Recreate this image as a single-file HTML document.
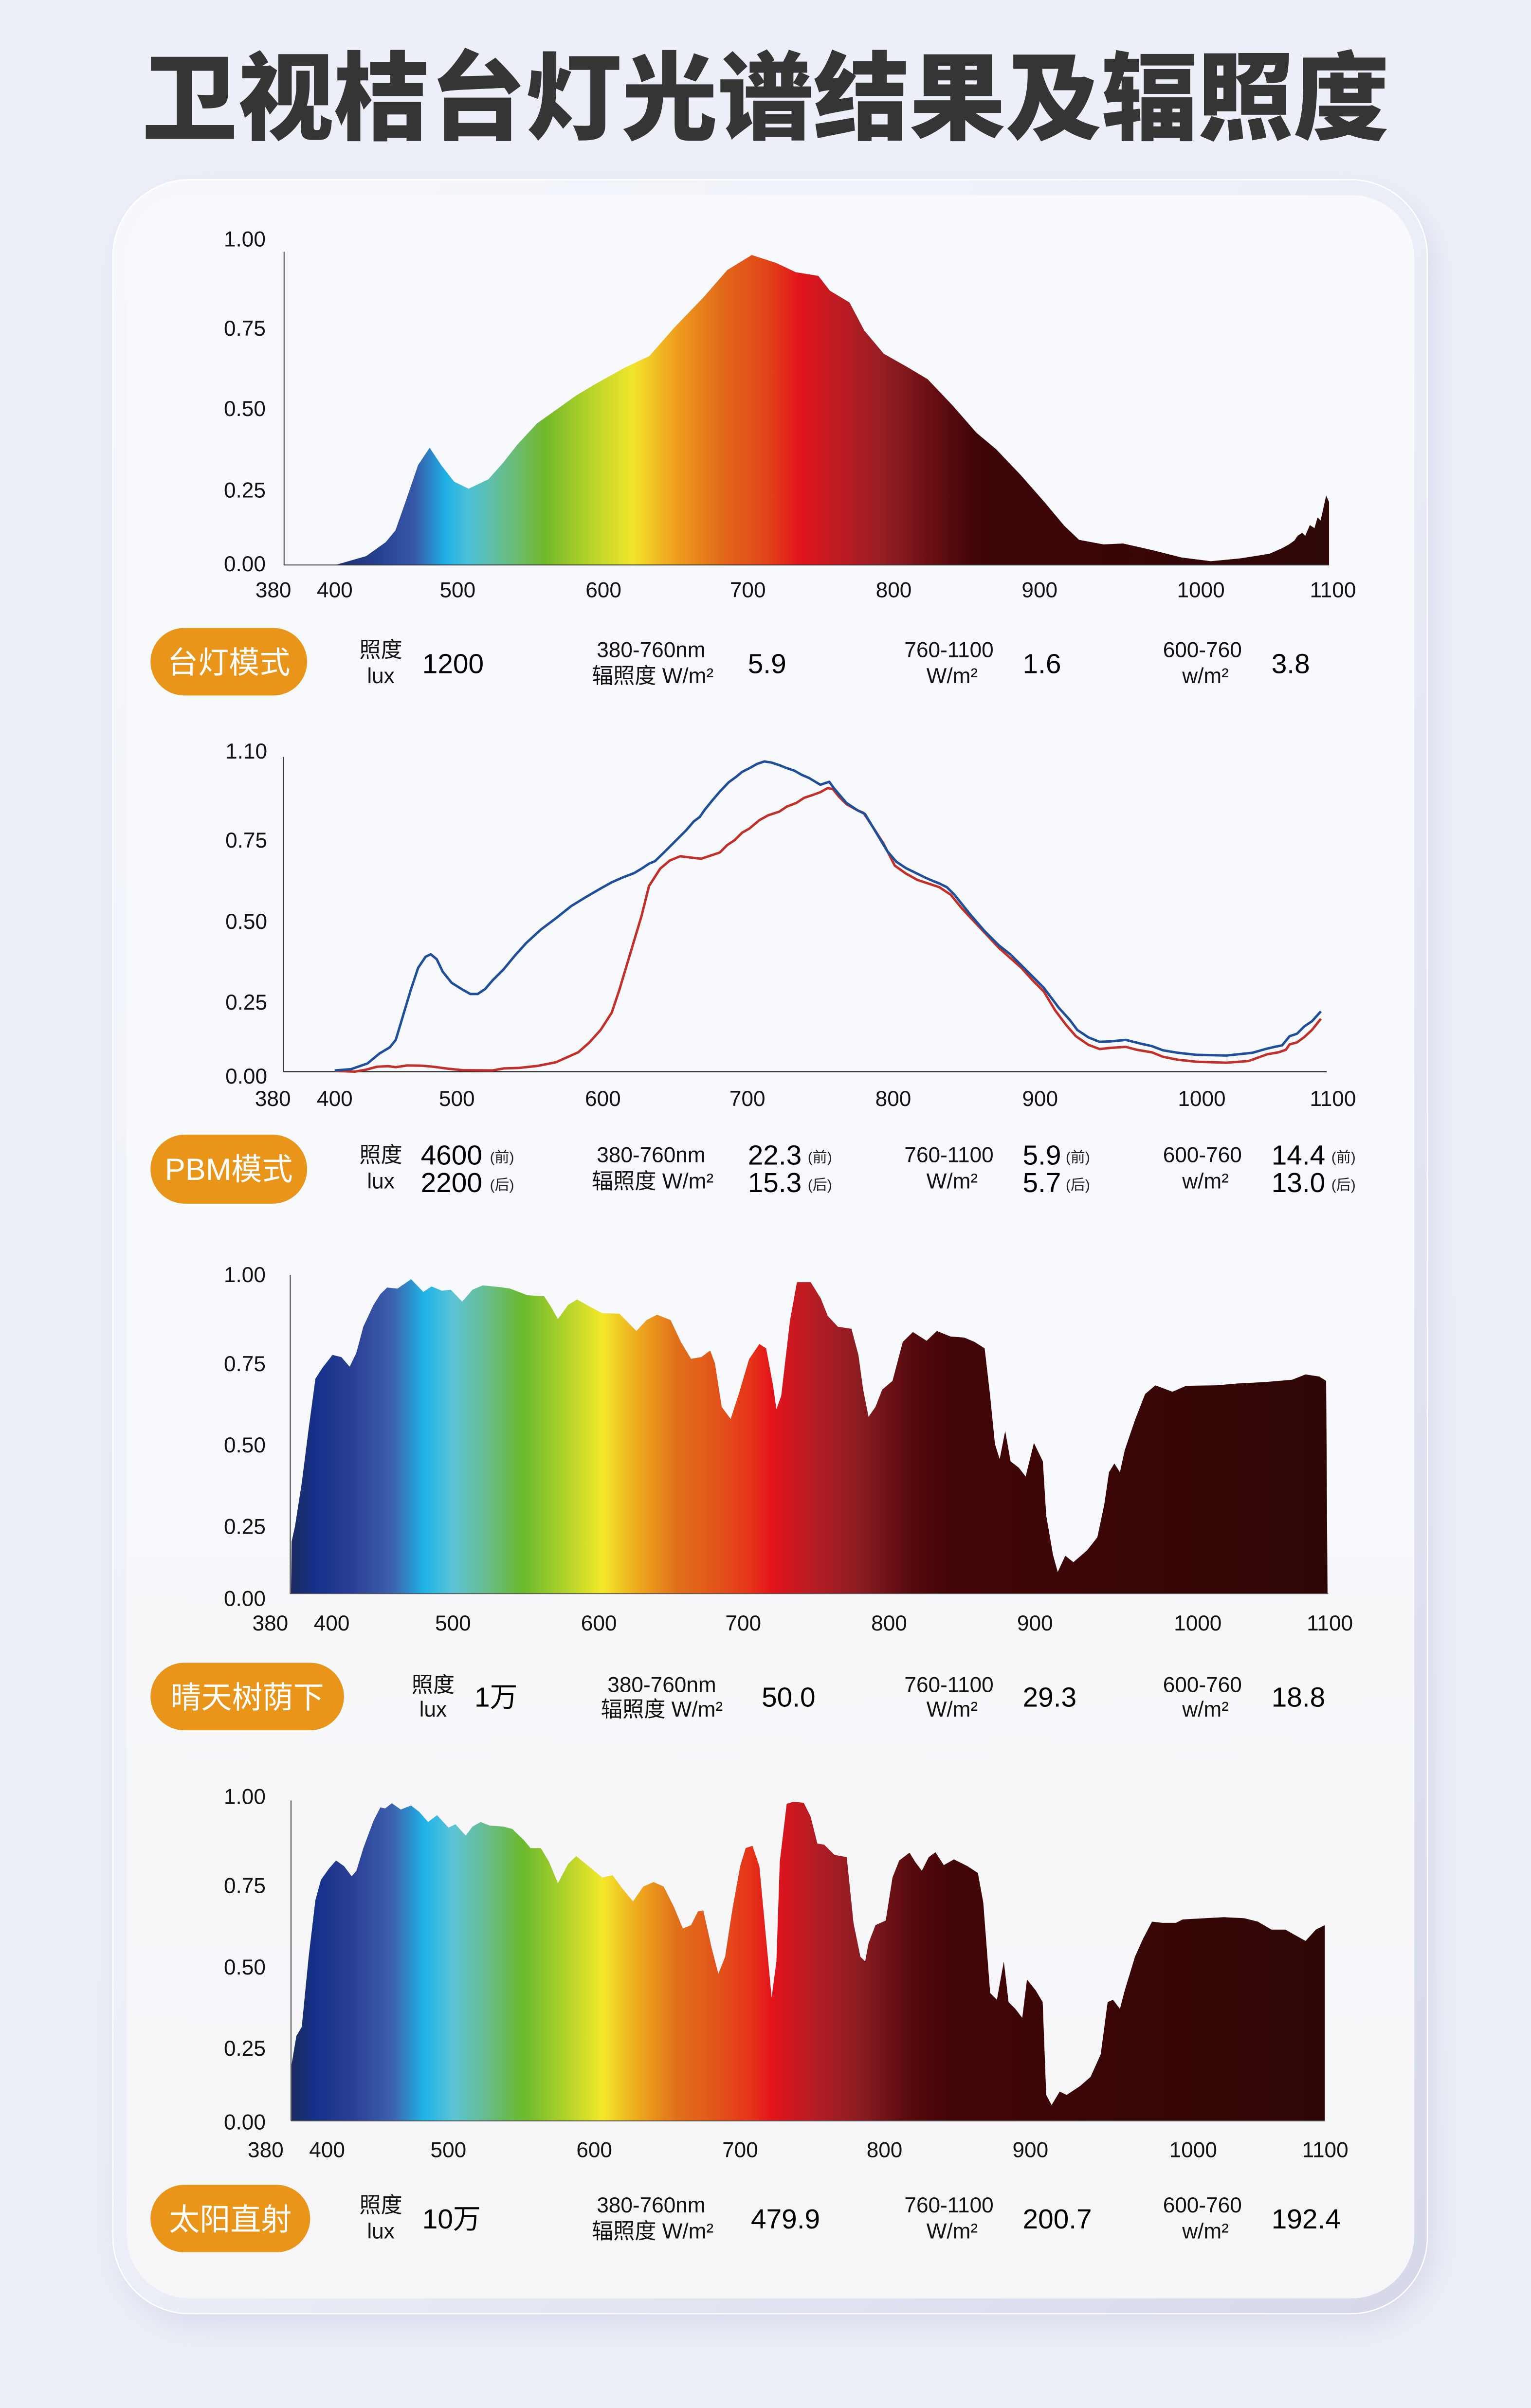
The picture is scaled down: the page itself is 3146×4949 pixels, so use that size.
<!DOCTYPE html>
<html>
<head>
<meta charset="utf-8">
<style>
html,body{margin:0;padding:0;background:#edeff7;}
svg{display:block;}
text{font-family:"Liberation Sans","Noto Sans CJK SC",sans-serif;fill:#111;}
.ax{font-size:14px;}
.lb{font-size:14px;text-anchor:middle;}
.v{font-size:18px;fill:#000;}
.sm{font-size:9.5px;fill:#222;}
.pill{font-size:20px;fill:#fff;text-anchor:middle;}
</style>
</head>
<body>
<svg width="3146" height="4949" viewBox="0 0 997 1568.4" preserveAspectRatio="none" xmlns="http://www.w3.org/2000/svg">
<defs>
  <linearGradient id="bg" x1="0" y1="0" x2="0" y2="1">
    <stop offset="0" stop-color="#edeff8"/>
    <stop offset="1" stop-color="#eceef7"/>
  </linearGradient>
  <linearGradient id="band" x1="0" y1="0" x2="1" y2="1">
    <stop offset="0" stop-color="#f6f8fd"/>
    <stop offset="0.5" stop-color="#eceef7"/>
    <stop offset="1" stop-color="#d5d8e9"/>
  </linearGradient>
  <linearGradient id="inner" x1="0" y1="0" x2="0" y2="1">
    <stop offset="0" stop-color="#f7f9fd"/>
    <stop offset="0.6" stop-color="#f8f9fc"/>
    <stop offset="1" stop-color="#f6f5f8"/>
  </linearGradient>
  <filter id="sh" x="-10%" y="-10%" width="120%" height="120%">
    <feGaussianBlur stdDeviation="9"/>
  </filter>
  <linearGradient id="sp1" gradientUnits="userSpaceOnUse" x1="219" y1="0" x2="866" y2="0">
    <stop offset="0" stop-color="#1e2f6e"/>
    <stop offset="0.04" stop-color="#263f8f"/>
    <stop offset="0.079" stop-color="#3659a8"/>
    <stop offset="0.11" stop-color="#1fb0e5"/>
    <stop offset="0.133" stop-color="#4cc0d8"/>
    <stop offset="0.156" stop-color="#5fbfa8"/>
    <stop offset="0.184" stop-color="#6cbb6a"/>
    <stop offset="0.21" stop-color="#72b92b"/>
    <stop offset="0.257" stop-color="#b8d42a"/>
    <stop offset="0.298" stop-color="#f2e52a"/>
    <stop offset="0.342" stop-color="#ef9e1e"/>
    <stop offset="0.388" stop-color="#e1691a"/>
    <stop offset="0.434" stop-color="#e14419"/>
    <stop offset="0.467" stop-color="#e3141c"/>
    <stop offset="0.504" stop-color="#bf1b22"/>
    <stop offset="0.55" stop-color="#951e24"/>
    <stop offset="0.597" stop-color="#6a1014"/>
    <stop offset="0.643" stop-color="#3f0508"/>
    <stop offset="0.744" stop-color="#3a0507"/>
    <stop offset="1" stop-color="#2e0707"/>
  </linearGradient>
  <linearGradient id="sp3" gradientUnits="userSpaceOnUse" x1="189" y1="0" x2="866" y2="0">
    <stop offset="0" stop-color="#1c2a5e"/>
    <stop offset="0.024" stop-color="#14318a"/>
    <stop offset="0.061" stop-color="#2c3f96"/>
    <stop offset="0.098" stop-color="#3d61ad"/>
    <stop offset="0.129" stop-color="#1fb3e6"/>
    <stop offset="0.157" stop-color="#5dc4d6"/>
    <stop offset="0.186" stop-color="#67bd94"/>
    <stop offset="0.223" stop-color="#6ab92e"/>
    <stop offset="0.26" stop-color="#a8cf2b"/>
    <stop offset="0.3" stop-color="#f3e82a"/>
    <stop offset="0.334" stop-color="#eeaa1e"/>
    <stop offset="0.372" stop-color="#e1701a"/>
    <stop offset="0.415" stop-color="#e2501a"/>
    <stop offset="0.445" stop-color="#e53018"/>
    <stop offset="0.464" stop-color="#e3131b"/>
    <stop offset="0.504" stop-color="#b51d24"/>
    <stop offset="0.548" stop-color="#8a1d22"/>
    <stop offset="0.593" stop-color="#5a0b0f"/>
    <stop offset="0.635" stop-color="#420507"/>
    <stop offset="1" stop-color="#2e0606"/>
  </linearGradient>
</defs>

<rect x="0" y="0" width="997" height="1568.4" fill="url(#bg)"/>

<!-- Title -->
<text x="498.5" y="86" style="font-family:'Liberation Sans','Noto Sans CJK SC',sans-serif;font-size:62.5px;font-weight:900;fill:#353535;text-anchor:middle;">卫视桔台灯光谱结果及辐照度</text>

<!-- Card -->
<rect x="78" y="124" width="856" height="1390" rx="52" fill="#c6c9e0" opacity="0.55" filter="url(#sh)"/>
<rect x="73.5" y="117" width="856" height="1390" rx="50" fill="url(#band)" stroke="#ffffff" stroke-width="0.8"/>
<rect x="82.5" y="127" width="838.5" height="1370" rx="41" fill="url(#inner)"/>

<!-- ========== Chart 1 ========== -->
<path fill="url(#sp1)" d="M219.4,368 L219.4,367.7 L238.5,362.2 L251.2,353.1 L257.5,345.5 L263.9,327.3 L272.2,303.1 L279.8,291.6 L287.4,303.1 L295.7,313.7 L305.2,318.3 L318,312.2 L327.5,301.6 L337,289.5 L349.7,275.8 L362.5,266.7 L375.2,257.6 L387.9,250 L407,239.4 L422.9,231.9 L438.8,213.7 L457.8,194 L473.7,175.8 L489.6,166.1 L505.5,171.3 L518.3,177.3 L532.9,179.7 L540.5,189.4 L553.2,197 L562.8,215.2 L575.5,230.4 L591.4,239.4 L604.1,247 L620,263.7 L635.9,281.9 L648.6,292.5 L664.5,309.2 L680.4,327.3 L693.1,342.5 L702.7,351.6 L718.6,354.6 L731.3,354 L750.4,358.3 L769.4,363.1 L788.5,365.5 L807.6,363.7 L826.7,360.7 L835,357 L839.4,354.6 L843,352 L845,349 L848,347 L850,349 L853,342 L856,344 L858,337 L860,339 L862,330 L863.6,322.8 L865.5,327 L865.5,368 Z"/>
<line x1="185" y1="164" x2="185" y2="368" stroke="#333" stroke-width="0.6"/>
<line x1="185" y1="368" x2="865.5" y2="368" stroke="#333" stroke-width="0.6"/>
<g class="ax" text-anchor="end">
<text x="173" y="160.5">1.00</text>
<text x="173" y="218.7">0.75</text>
<text x="173" y="271">0.50</text>
<text x="173" y="324">0.25</text>
<text x="173" y="372">0.00</text>
</g>
<g class="ax" text-anchor="middle">
<text x="178" y="389">380</text><text x="218" y="389">400</text><text x="298" y="389">500</text><text x="393" y="389">600</text><text x="487" y="389">700</text><text x="582" y="389">800</text><text x="677" y="389">900</text><text x="782" y="389">1000</text><text x="868" y="389">1100</text>
</g>

<!-- Row 1 -->
<rect x="98" y="409" width="102" height="44" rx="22" fill="#e8951a"/>
<text class="pill" x="149" y="438.5">台灯模式</text>
<text class="lb" x="248" y="428">照度</text>
<text class="lb" x="248" y="445">lux</text>
<text class="v" x="275" y="438.5">1200</text>
<text class="lb" x="424" y="428">380-760nm</text>
<text class="lb" x="425" y="445">辐照度 W/m²</text>
<text class="v" x="487" y="438.5">5.9</text>
<text class="lb" x="618" y="428">760-1100</text>
<text class="lb" x="620" y="445">W/m²</text>
<text class="v" x="666" y="438.5">1.6</text>
<text class="lb" x="783" y="428">600-760</text>
<text class="lb" x="785" y="445">w/m²</text>
<text class="v" x="828" y="438.5">3.8</text>

<!-- ========== Chart 2 ========== -->
<line x1="184.5" y1="493" x2="184.5" y2="698" stroke="#333" stroke-width="0.6"/>
<line x1="184.5" y1="698" x2="864" y2="698" stroke="#222" stroke-width="0.7"/>
<g transform="translate(126.76,475.25) scale(0.48506,0.16165)">
<polyline fill="none" stroke="#c2302a" stroke-width="5" vector-effect="non-scaling-stroke" stroke-linejoin="round" points="188,1375 215,1378 230,1370 245,1358 260,1356 270,1360 285,1353 305,1354 320,1358 340,1366 360,1372 400,1373 415,1365 435,1363 460,1355 485,1340 500,1320 515,1300 530,1260 545,1210 560,1140 570,1050 580,950 590,850 600,750 610,630 625,560 638,527 652,510 665,515 680,520 695,505 705,495 715,465 725,445 735,415 745,398 758,365 770,345 785,330 795,310 808,295 818,275 828,265 840,252 850,235 857,240 865,270 875,300 890,325 898,335 910,390 925,460 940,548 955,580 970,605 985,620 1000,635 1015,665 1030,720 1055,800 1080,880 1095,920 1110,960 1125,1010 1140,1055 1155,1130 1170,1190 1183,1235 1200,1270 1215,1287 1230,1282 1250,1278 1265,1290 1285,1300 1300,1318 1320,1330 1345,1338 1385,1342 1415,1335 1440,1308 1455,1300 1465,1290 1470,1268 1480,1260 1490,1238 1500,1210 1512,1165"/>
<polyline fill="none" stroke="#1f4f98" stroke-width="5" vector-effect="non-scaling-stroke" stroke-linejoin="round" points="188,1373 210,1368 232,1345 248,1305 262,1280 270,1250 280,1150 290,1050 300,960 310,915 317,905 325,925 333,975 345,1020 360,1048 370,1065 380,1065 390,1045 400,1010 415,965 430,910 445,860 465,805 485,760 505,712 525,675 545,640 560,615 575,595 590,578 600,560 610,540 618,530 630,495 645,450 660,405 670,370 678,352 685,322 695,285 705,250 717,212 727,190 735,170 745,155 755,138 765,128 775,133 785,143 795,155 805,165 815,182 825,195 840,222 852,210 858,235 865,260 875,295 890,325 900,340 910,390 920,440 930,490 942,532 955,558 970,580 980,595 990,608 1000,620 1010,635 1020,665 1040,740 1060,810 1080,870 1095,905 1110,950 1125,995 1140,1040 1160,1120 1175,1170 1185,1210 1200,1240 1215,1258 1230,1256 1250,1250 1270,1265 1285,1275 1300,1292 1320,1302 1345,1310 1385,1313 1420,1302 1440,1285 1450,1278 1460,1272 1470,1235 1480,1225 1490,1195 1500,1175 1512,1135"/>
</g>
<g class="ax" text-anchor="end">
<text x="174" y="494">1.10</text>
<text x="174" y="552">0.75</text>
<text x="174" y="605">0.50</text>
<text x="174" y="657.6">0.25</text>
<text x="174" y="705.8">0.00</text>
</g>
<g class="ax" text-anchor="middle">
<text x="177.7" y="720.3">380</text><text x="218" y="720.3">400</text><text x="297.5" y="720.3">500</text><text x="392.6" y="720.3">600</text><text x="486.7" y="720.3">700</text><text x="581.7" y="720.3">800</text><text x="677.3" y="720.3">900</text><text x="782.6" y="720.3">1000</text><text x="868" y="720.3">1100</text>
</g>

<!-- Row 2 -->
<rect x="98" y="739" width="102" height="45" rx="22.5" fill="#e8951a"/>
<text class="pill" x="149" y="768.5">PBM模式</text>
<text class="lb" x="248" y="757">照度</text>
<text class="lb" x="248" y="774">lux</text>
<text class="v" x="274" y="758.5">4600</text><text class="sm" x="319" y="757">(前)</text>
<text class="v" x="274" y="776.5">2200</text><text class="sm" x="319" y="775">(后)</text>
<text class="lb" x="424" y="757">380-760nm</text>
<text class="lb" x="425" y="774">辐照度 W/m²</text>
<text class="v" x="487" y="758.5">22.3</text><text class="sm" x="526" y="757">(前)</text>
<text class="v" x="487" y="776.5">15.3</text><text class="sm" x="526" y="775">(后)</text>
<text class="lb" x="618" y="757">760-1100</text>
<text class="lb" x="620" y="774">W/m²</text>
<text class="v" x="666" y="758.5">5.9</text><text class="sm" x="694" y="757">(前)</text>
<text class="v" x="666" y="776.5">5.7</text><text class="sm" x="694" y="775">(后)</text>
<text class="lb" x="783" y="757">600-760</text>
<text class="lb" x="785" y="774">w/m²</text>
<text class="v" x="828" y="758.5">14.4</text><text class="sm" x="867" y="757">(前)</text>
<text class="v" x="828" y="776.5">13.0</text><text class="sm" x="867" y="775">(后)</text>

<!-- ========== Chart 3 ========== -->
<path fill="url(#sp3)" d="M189.5,1038 L189.9,1004.1 L192.1,994.2 L196.5,965.9 L201,930.6 L205.4,898 L209.9,891 L216.5,882.5 L222.3,883.9 L227.7,890.2 L232.1,881 L236.6,864.1 L243.2,850 L247.7,842.9 L252.1,838.6 L258.8,839.3 L267.7,833.2 L275.7,841.5 L281,837.9 L287.7,840.7 L293.5,840 L301,847.8 L307.7,840 L314.4,837.2 L325.5,838.3 L332.2,839.3 L343.3,843.6 L354.4,844.3 L358.9,851.3 L363.3,859.1 L370,849.9 L375.8,846.4 L383.3,850.6 L392.2,855.3 L403.3,855.6 L414.4,866.9 L421.1,859.8 L427.8,856.3 L436.7,859.8 L443.4,874 L450,885 L456.7,883.9 L462.5,879.6 L465.6,888.1 L470,916.4 L475.8,924.2 L481.1,907.9 L487.8,885.3 L494.5,875.4 L498.9,878.2 L503.4,902.3 L505.6,917.8 L508.7,909.3 L514.5,859.8 L519,835.1 L527.9,835.1 L534.5,845.7 L539,857 L545.6,864.1 L554.5,865.5 L559,882.5 L562.1,905.1 L565.6,922.8 L570.1,916.4 L574.5,905.1 L581.2,899.4 L587.9,874 L594.5,867.6 L603.4,873.3 L610.1,866.9 L619,870.5 L627.9,871.2 L634.6,874 L641.2,878.2 L644.8,909.3 L647.9,940.5 L651,950.4 L654.6,932 L658.1,951.8 L663.5,956 L667.9,961.7 L673.3,939.8 L679.1,951.8 L681.3,987.1 L685.7,1012.6 L688.8,1023.9 L693.7,1013.3 L699,1017.5 L707.9,1009.8 L714.6,1001.3 L719.1,980 L722.2,958.9 L725.7,953.2 L729.3,958.9 L732.4,944.7 L739.1,924.9 L745.7,908 L752.4,902.3 L763.5,906.5 L772.4,902.6 L792.4,902.3 L805.8,901.1 L823.6,900.2 L841.3,898.7 L850.2,895.2 L859.1,896.6 L863.6,899.4 L864.5,1038 Z"/>
<line x1="189" y1="830.4" x2="189" y2="1038" stroke="#333" stroke-width="0.6"/>
<line x1="189" y1="1038" x2="865" y2="1038" stroke="#555" stroke-width="0.6"/>
<g class="ax" text-anchor="end">
<text x="173" y="835">1.00</text>
<text x="173" y="893">0.75</text>
<text x="173" y="946">0.50</text>
<text x="173" y="999">0.25</text>
<text x="173" y="1046">0.00</text>
</g>
<g class="ax" text-anchor="middle">
<text x="176" y="1062">380</text><text x="216" y="1062">400</text><text x="295" y="1062">500</text><text x="390" y="1062">600</text><text x="484" y="1062">700</text><text x="579" y="1062">800</text><text x="674" y="1062">900</text><text x="780" y="1062">1000</text><text x="866" y="1062">1100</text>
</g>

<!-- Row 3 -->
<rect x="98" y="1083" width="126" height="44" rx="22" fill="#e8951a"/>
<text class="pill" x="161" y="1112.5">晴天树荫下</text>
<text class="lb" x="282" y="1102">照度</text>
<text class="lb" x="282" y="1118">lux</text>
<text class="v" x="309" y="1111.5">1万</text>
<text class="lb" x="431" y="1102">380-760nm</text>
<text class="lb" x="431" y="1118">辐照度 W/m²</text>
<text class="v" x="496" y="1111.5">50.0</text>
<text class="lb" x="618" y="1102">760-1100</text>
<text class="lb" x="620" y="1118">W/m²</text>
<text class="v" x="666" y="1111.5">29.3</text>
<text class="lb" x="783" y="1102">600-760</text>
<text class="lb" x="785" y="1118">w/m²</text>
<text class="v" x="828" y="1111.5">18.8</text>

<!-- ========== Chart 4 ========== -->
<path fill="url(#sp3)" d="M189.9,1381.4 L189.9,1344.6 L193,1326.1 L196.5,1320.2 L201,1274.5 L205.4,1237.6 L209,1224.4 L214.3,1217 L218.8,1211.8 L224.1,1215.5 L229,1222.1 L232.1,1218.5 L236.6,1203.7 L243.2,1186 L247.7,1177.2 L250.8,1177.9 L255.2,1174.5 L261,1178.6 L267.7,1176 L273,1180.1 L278.8,1186.7 L284.6,1182.3 L292.1,1190.4 L296.6,1188.2 L303.3,1195.6 L307.7,1189.7 L313,1186.7 L318.8,1189 L327.7,1189.7 L333.5,1191.2 L341.1,1198.5 L345.5,1203.7 L352.2,1203.7 L357.5,1212.6 L363.3,1226.6 L370,1214 L375.3,1208.9 L383.3,1215.5 L392.2,1222.9 L398.9,1221.4 L405.5,1230.3 L412.2,1238.4 L418.9,1228.8 L425.6,1225.8 L432.2,1228.8 L438.9,1242.1 L444.7,1256.1 L450,1253.9 L454.5,1245 L458,1244.3 L463.4,1268.6 L467.8,1285.6 L472.2,1274.5 L476.7,1245 L482,1215.5 L485.6,1203.7 L490,1202.2 L494.5,1215.5 L498.9,1262.7 L502.5,1301.1 L505.6,1277.5 L507.8,1212.6 L512.3,1174.9 L516.7,1173.5 L523.4,1174.2 L527.8,1183 L532.3,1200.8 L536.7,1201.5 L543.4,1208.1 L551.4,1209.6 L555.8,1252.4 L560.3,1274.5 L563.4,1277.5 L565.6,1265.7 L570.1,1253.9 L576.8,1250.9 L581.2,1222.9 L585.6,1211.8 L592.3,1206.7 L595.9,1212.6 L600.3,1218.5 L604.8,1209.6 L609.2,1206.4 L614.6,1214.8 L621.2,1211.1 L630.1,1215.5 L636.8,1219.9 L640.3,1239.1 L644.8,1298.1 L649.2,1302.5 L653.7,1277.5 L656.8,1304 L661.2,1308.4 L665.7,1314.3 L668.8,1289.3 L674.6,1296.6 L679,1304 L681.3,1364.5 L684.8,1371.1 L690.1,1362.3 L694.6,1364.5 L703.5,1358.6 L710.2,1352.7 L716.8,1338 L721.3,1304 L724.8,1302.5 L729.3,1308.4 L732.4,1296.6 L739.1,1274.5 L744.4,1262.7 L750.2,1251.6 L756.9,1252.4 L765.8,1252.4 L770.2,1250.2 L796.9,1248.7 L810.2,1249.4 L819.1,1251.6 L828,1256.8 L837,1256.8 L850.2,1264.2 L856.9,1256.8 L862.7,1253.9 L862.7,1381.4 Z"/>
<line x1="189.5" y1="1172.7" x2="189.5" y2="1381.4" stroke="#333" stroke-width="0.6"/>
<line x1="189.5" y1="1381.4" x2="863" y2="1381.4" stroke="#555" stroke-width="0.6"/>
<g class="ax" text-anchor="end">
<text x="173" y="1175">1.00</text>
<text x="173" y="1233">0.75</text>
<text x="173" y="1286">0.50</text>
<text x="173" y="1339">0.25</text>
<text x="173" y="1387">0.00</text>
</g>
<g class="ax" text-anchor="middle">
<text x="173" y="1405">380</text><text x="213" y="1405">400</text><text x="292" y="1405">500</text><text x="387" y="1405">600</text><text x="482" y="1405">700</text><text x="576" y="1405">800</text><text x="671" y="1405">900</text><text x="777" y="1405">1000</text><text x="863" y="1405">1100</text>
</g>

<!-- Row 4 -->
<rect x="98" y="1423" width="104" height="44" rx="22" fill="#e8951a"/>
<text class="pill" x="150" y="1452.5">太阳直射</text>
<text class="lb" x="248" y="1441">照度</text>
<text class="lb" x="248" y="1458">lux</text>
<text class="v" x="275" y="1451.5">10万</text>
<text class="lb" x="424" y="1441">380-760nm</text>
<text class="lb" x="425" y="1458">辐照度 W/m²</text>
<text class="v" x="489" y="1451.5">479.9</text>
<text class="lb" x="618" y="1441">760-1100</text>
<text class="lb" x="620" y="1458">W/m²</text>
<text class="v" x="666" y="1451.5">200.7</text>
<text class="lb" x="783" y="1441">600-760</text>
<text class="lb" x="785" y="1458">w/m²</text>
<text class="v" x="828" y="1451.5">192.4</text>
</svg>
</body>
</html>
